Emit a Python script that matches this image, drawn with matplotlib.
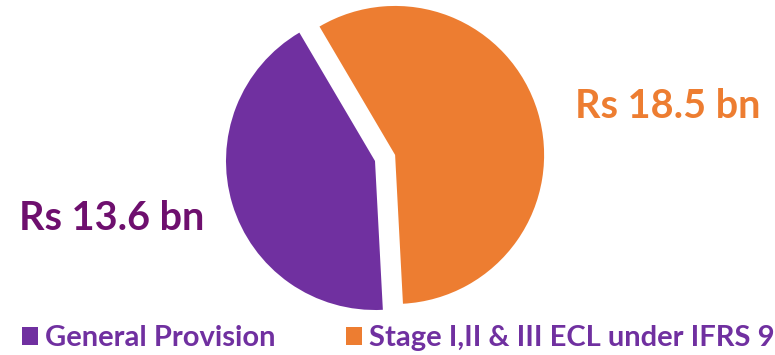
import matplotlib.pyplot as plt

labels = ["General Provision", "Stage I,II & III ECL under IFRS 9"]
values = [13.6, 18.5]
value_text = ["Rs 13.6 bn", "Rs 18.5 bn"]

slice_colors = ["#7030A0", "#ED7D31"]
label_colors = ["#6E0F6E", "#ED7D31"]
legend_color = "#7030A0"

plt.rcParams["font.family"] = ["Lato", "DejaVu Sans"]

fig = plt.figure(figsize=(7.75, 3.55), dpi=100)
ax = fig.add_axes([0, 0, 1, 1])

# work in pixel units: x 0..775, y 0..355 (up)
wedges, _ = ax.pie(
    values,
    colors=slice_colors,
    startangle=120.5,
    counterclock=True,
    explode=(0, 21),
    radius=149,
    center=(375, 355 - 161),
)
ax.set_xlim(0, 775)
ax.set_ylim(0, 355)
ax.set_aspect("equal")
ax.axis("off")

ax.text(112, 355 - 218, value_text[0], color=label_colors[0], fontsize=28.5,
        fontweight="bold", ha="center", va="center")
ax.text(668, 355 - 106, value_text[1], color=label_colors[1], fontsize=28.5,
        fontweight="bold", ha="center", va="center")

leg = fig.legend(
    wedges, labels, ncol=2, frameon=False, loc="center left",
    bbox_to_anchor=(0.028, 0.047), handlelength=0.55, handleheight=0.55,
    handletextpad=0.25, columnspacing=2.4, borderpad=0, borderaxespad=0,
    prop={"size": 21, "weight": "bold"},
)
for t in leg.get_texts():
    t.set_color(legend_color)

fig.savefig("out.png", dpi=100)
